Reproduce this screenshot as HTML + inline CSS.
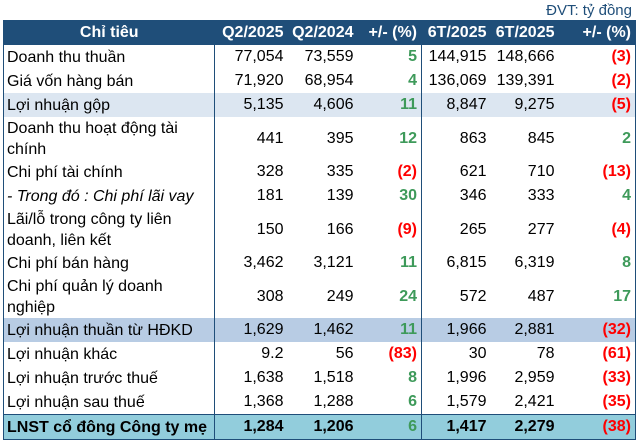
<!DOCTYPE html>
<html><head><meta charset="utf-8"><style>
body{margin:0;background:#fff;width:638px;height:446px;overflow:hidden;font-family:"Liberation Sans",Arial,sans-serif;}
.unit{position:absolute;right:6px;top:2px;font-size:15px;color:#1F4E79;}
table{position:absolute;left:3px;top:20px;border-collapse:collapse;table-layout:fixed;width:632px;font-size:16px;color:#000;}
td,th{padding:0 4px;white-space:nowrap;overflow:hidden;}
th{background:#1F4E79;color:#fff;font-weight:bold;height:25px;text-align:right;font-size:16px;}
th.l{text-align:center;}
td{text-align:right;height:24px;line-height:18px;}
td.l{text-align:left;line-height:21px;padding-left:3px;}
tr.d td{height:43px;}
.b1{border-right:1.5px solid #1F4E79;}
.g{color:#3E9A5A;font-weight:bold;}
.r{color:#F00;font-weight:bold;}
tr.s1 td{background:#DCE6F1;}
tr.s2 td{background:#B8CCE4;}
tr.s3 td{background:#92CDDC;font-weight:bold;border-top:1.5px solid #1F4E79;}
table{border-left:1.5px solid #1F4E79;border-right:1.5px solid #1F4E79;border-bottom:1.5px solid #1F4E79;}
</style></head><body>
<div class="unit">ĐVT: tỷ đồng</div>
<table>
<colgroup><col style="width:211px"><col style="width:73px"><col style="width:70px"><col style="width:64px"><col style="width:69px"><col style="width:68px"><col style="width:77px"></colgroup>
<tr><th class="l">Chỉ tiêu</th><th>Q2/2025</th><th>Q2/2024</th><th class="b1">+/- (%)</th><th>6T/2025</th><th>6T/2025</th><th>+/- (%)</th></tr>
<tr><td class="l b1">Doanh thu thuần</td><td>77,054</td><td>73,559</td><td class="g b1">5</td><td>144,915</td><td>148,666</td><td class="r">(3)</td></tr>
<tr><td class="l b1">Giá vốn hàng bán</td><td>71,920</td><td>68,954</td><td class="g b1">4</td><td>136,069</td><td>139,391</td><td class="r">(2)</td></tr>
<tr class="s1"><td class="l b1">Lợi nhuận gộp</td><td>5,135</td><td>4,606</td><td class="g b1">11</td><td>8,847</td><td>9,275</td><td class="r">(5)</td></tr>
<tr class="d"><td class="l b1">Doanh thu hoạt động tài<br>chính</td><td>441</td><td>395</td><td class="g b1">12</td><td>863</td><td>845</td><td class="g">2</td></tr>
<tr><td class="l b1">Chi phí tài chính</td><td>328</td><td>335</td><td class="r b1">(2)</td><td>621</td><td>710</td><td class="r">(13)</td></tr>
<tr><td class="l b1"><i>- Trong đó : Chi phí lãi vay</i></td><td>181</td><td>139</td><td class="g b1">30</td><td>346</td><td>333</td><td class="g">4</td></tr>
<tr class="d"><td class="l b1">Lãi/lỗ trong công ty liên<br>doanh, liên kết</td><td>150</td><td>166</td><td class="r b1">(9)</td><td>265</td><td>277</td><td class="r">(4)</td></tr>
<tr><td class="l b1">Chi phí bán hàng</td><td>3,462</td><td>3,121</td><td class="g b1">11</td><td>6,815</td><td>6,319</td><td class="g">8</td></tr>
<tr class="d"><td class="l b1">Chi phí quản lý doanh<br>nghiệp</td><td>308</td><td>249</td><td class="g b1">24</td><td>572</td><td>487</td><td class="g">17</td></tr>
<tr class="s2"><td class="l b1">Lợi nhuận thuần từ HĐKD</td><td>1,629</td><td>1,462</td><td class="g b1">11</td><td>1,966</td><td>2,881</td><td class="r">(32)</td></tr>
<tr><td class="l b1">Lợi nhuận khác</td><td>9.2</td><td>56</td><td class="r b1">(83)</td><td>30</td><td>78</td><td class="r">(61)</td></tr>
<tr><td class="l b1">Lợi nhuận trước thuế</td><td>1,638</td><td>1,518</td><td class="g b1">8</td><td>1,996</td><td>2,959</td><td class="r">(33)</td></tr>
<tr><td class="l b1">Lợi nhuận sau thuế</td><td>1,368</td><td>1,288</td><td class="g b1">6</td><td>1,579</td><td>2,421</td><td class="r">(35)</td></tr>
<tr class="s3"><td class="l b1">LNST cổ đông Công ty mẹ</td><td>1,284</td><td>1,206</td><td class="g b1">6</td><td>1,417</td><td>2,279</td><td class="r">(38)</td></tr>
</table>
</body></html>
